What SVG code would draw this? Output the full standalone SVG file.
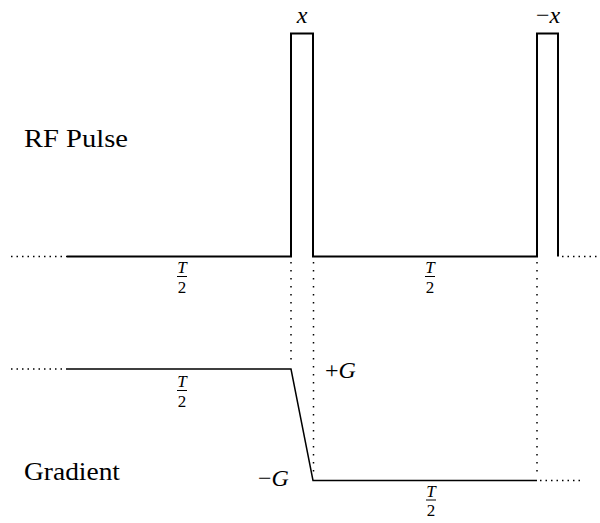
<svg xmlns="http://www.w3.org/2000/svg" width="600" height="523" viewBox="0 0 600 523">
<style>
text{font-family:'Liberation Serif','DejaVu Serif',serif;fill:#000}
.it{font-style:italic}
.thick{stroke:#000;stroke-width:2;fill:none}
.thin{stroke:#000;stroke-width:1.5;fill:none}
.dotv{stroke:#000;stroke-width:1.5;fill:none;stroke-dasharray:1.5 6.5}
.doth{stroke:#000;stroke-width:1.5;fill:none;stroke-dasharray:1.5 4}
.bar{stroke:#000;stroke-width:1}
</style>
<rect width="600" height="523" fill="#fff"/>
<g id="rf-labels">
<text x="24" y="147" font-size="26" textLength="104" lengthAdjust="spacingAndGlyphs">RF Pulse</text>
<text class="it" x="302" y="23" font-size="24" text-anchor="middle">x</text>
<text x="548" y="23" font-size="24" text-anchor="middle">−<tspan class="it">x</tspan></text>
</g>
<g id="rf-line">
<path class="doth" d="M11 256.5 H67"/>
<path class="thick" d="M67 256.5 H291 V33.5 H313 V256.5 H537 V33.5 H558 V256.5"/>
<path class="doth" d="M562 256.5 H600"/>
</g>
<g id="gradient-line">
<path class="doth" d="M11 369 H67"/>
<path class="thin" d="M67 369 H291 L313 480.5 H537"/>
<path class="doth" d="M540 480.5 H583"/>
</g>
<g id="connectors">
<path class="dotv" d="M291 262 V365"/>
<path class="dotv" d="M313.5 262 V476"/>
<path class="dotv" d="M537 262 V478"/>
</g>
<g id="gradient-labels">
<text x="24" y="480" font-size="26" textLength="96" lengthAdjust="spacingAndGlyphs">Gradient</text>
<text x="325" y="378" font-size="24"><tspan>+</tspan><tspan class="it">G</tspan></text>
<text x="258" y="486" font-size="24"><tspan>−</tspan><tspan class="it">G</tspan></text>
</g>
<g id="fractions">
<g id="frac1">
<text class="it" x="182" y="273" font-size="17" text-anchor="middle">T</text>
<line class="bar" x1="177" y1="276.5" x2="187" y2="276.5"/>
<text x="182" y="292.5" font-size="17" text-anchor="middle">2</text>
</g>
<g id="frac2">
<text class="it" x="430" y="273" font-size="17" text-anchor="middle">T</text>
<line class="bar" x1="425" y1="276.5" x2="435" y2="276.5"/>
<text x="430" y="292.5" font-size="17" text-anchor="middle">2</text>
</g>
<g id="frac3">
<text class="it" x="182" y="387" font-size="17" text-anchor="middle">T</text>
<line class="bar" x1="177" y1="390.5" x2="187" y2="390.5"/>
<text x="182" y="406.5" font-size="17" text-anchor="middle">2</text>
</g>
<g id="frac4">
<text class="it" x="431" y="496.5" font-size="17" text-anchor="middle">T</text>
<line class="bar" x1="426" y1="500" x2="436" y2="500"/>
<text x="431" y="516" font-size="17" text-anchor="middle">2</text>
</g>
</g>
</svg>
